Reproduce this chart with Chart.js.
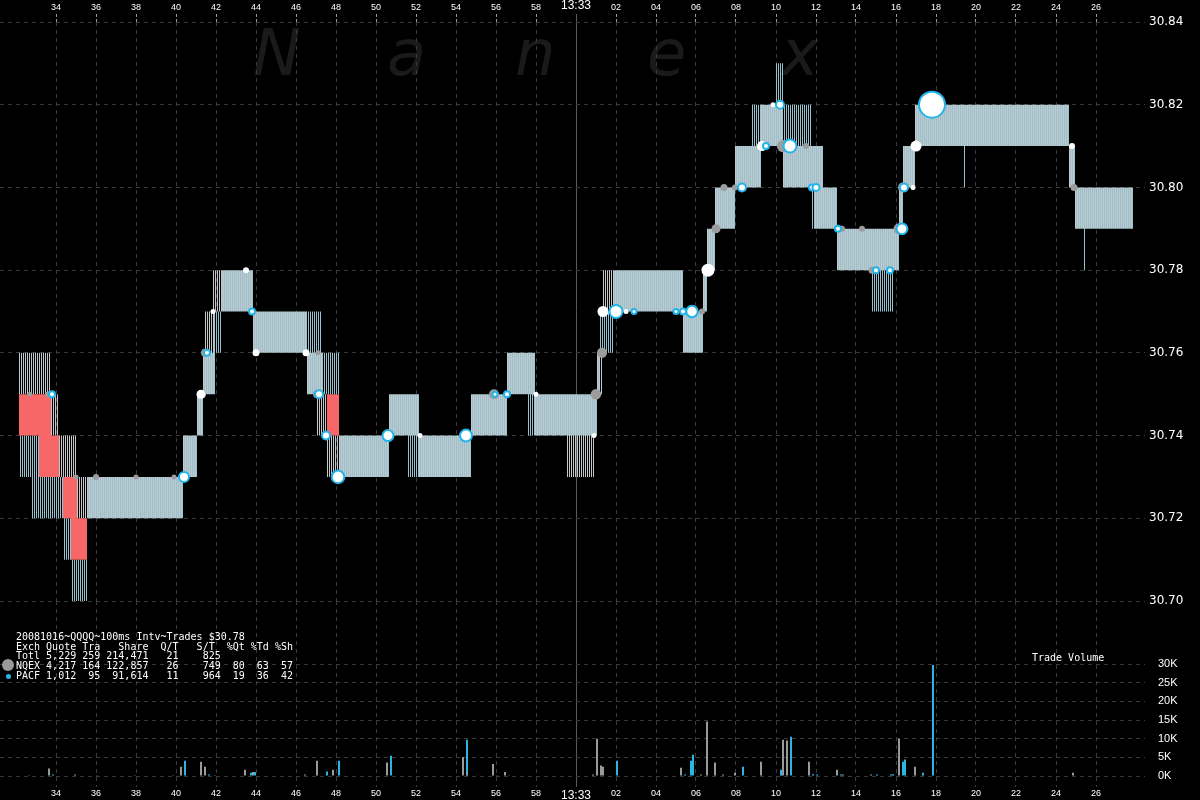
<!DOCTYPE html>
<html><head><meta charset="utf-8">
<script src="https://cdn.jsdelivr.net/npm/chart.js@4.4.1/dist/chart.umd.min.js"></script>
<style>
html,body{margin:0;padding:0;background:#000;width:1200px;height:800px;overflow:hidden;}
#wm span{position:absolute;top:21px;font:italic 64px 'DejaVu Sans';color:#1a1a1a;line-height:64px;}
canvas{position:absolute;left:0;}
#c1{top:0;z-index:1;} #c2{top:601px;z-index:2;}
.txt{position:absolute;font:10px 'DejaVu Sans Mono';color:#fff;white-space:pre;line-height:10px;z-index:3;}
.dot{position:absolute;border-radius:50%;z-index:3;}
</style></head><body>
<div id="wm"><span style="left:253px">N</span><span style="left:387px">a</span><span style="left:515px">n</span><span style="left:647px">e</span><span style="left:781px">x</span></div>
<canvas id="c1" width="1200" height="612"></canvas>
<canvas id="c2" width="1200" height="199"></canvas>
<div class="txt" style="left:16px;top:632px">20081016~QQQQ~100ms Intv~Trades $30.78</div>
<div class="txt" style="left:16px;top:641.7px">Exch Quote Tra   Share  Q/T   S/T  %Qt %Td %Sh</div>
<div class="txt" style="left:16px;top:651.4px">Totl 5,229 259 214,471   21    825</div>
<div class="txt" style="left:16px;top:661.1px">NQEX 4,217 164 122,857   26    749  80  63  57</div>
<div class="txt" style="left:16px;top:670.8px">PACF 1,012  95  91,614   11    964  19  36  42</div>
<div class="dot" style="left:2px;top:659px;width:12px;height:12px;background:#9a9a9a"></div>
<div class="dot" style="left:5.5px;top:673.5px;width:5px;height:5px;background:#29b6e6"></div>
<div class="txt" style="left:1032px;top:652.5px">Trade Volume</div>
<script>
// ---- Quote data (time in seconds relative to 13:33:00) ----
const nqT   = [-27.8,-26.2,-25.8,-24.9,-19.6,-18.9,-18.6,-18.5,-18.1,-18.0,-16.1,-13.4,-12.9,-12.6,-12.4,-9.3,-7.8,-5.2,-3.4,-2.0,-0.4,1.0,1.1,1.4,5.4,6.4,6.6,7.0,8.0,9.3,10.4,12.0,12.4,13.1,16.2,16.4,17.0,24.7,25.0];
const nqBid = [30.75,30.74,30.73,30.72,30.73,30.74,30.75,30.75,30.75,30.77,30.76,30.75,30.74,30.74,30.73,30.74,30.73,30.74,30.75,30.74,30.73,30.74,30.75,30.77,30.76,30.77,30.78,30.79,30.80,30.81,30.80,30.79,30.79,30.78,30.79,30.80,30.81,30.80,30.79];
const nqAsk = [30.76,30.75,30.74,30.73,30.74,30.75,30.76,30.77,30.78,30.78,30.77,30.76,30.76,30.75,30.74,30.75,30.74,30.75,30.76,30.75,30.75,30.75,30.76,30.78,30.77,30.78,30.79,30.80,30.81,30.82,30.81,30.81,30.80,30.79,30.80,30.81,30.82,30.81,30.80];

const pcT   = [-27.8,-27.2,-26.8,-25.6,-25.2,-24.4,-19.6,-18.9,-18.6,-18.1,-18.0,-17.7,-16.1,-13.4,-12.7,-11.8,-9.3,-8.4,-7.8,-5.2,-3.4,-2.4,-2.0,1.1,1.2,1.9,5.4,6.4,6.6,7.0,8.0,8.8,9.3,10.0,10.4,11.8,12.4,13.1,14.8,15.9,16.2,16.4,17.0,19.4,19.5,24.7,25.0,25.4,25.5];
const pcBid = [30.73,30.72,30.72,30.71,30.70,30.72,30.73,30.74,30.75,30.75,30.76,30.77,30.76,30.75,30.75,30.73,30.74,30.73,30.73,30.74,30.75,30.74,30.74,30.75,30.76,30.77,30.76,30.77,30.78,30.79,30.80,30.80,30.81,30.81,30.80,30.79,30.79,30.78,30.77,30.78,30.79,30.80,30.81,30.80,30.81,30.80,30.79,30.78,30.79];
const pcAsk = [30.74,30.74,30.73,30.72,30.71,30.73,30.74,30.75,30.76,30.77,30.77,30.78,30.77,30.77,30.76,30.74,30.75,30.75,30.74,30.75,30.76,30.76,30.75,30.76,30.77,30.78,30.77,30.78,30.79,30.80,30.81,30.82,30.82,30.83,30.82,30.81,30.80,30.79,30.79,30.79,30.80,30.81,30.82,30.82,30.82,30.81,30.80,30.80,30.80];
const quoteStart = -27.8, quoteEnd = 27.9, interval = 0.1;

// ---- Trade volume (shares) ----
const nqVolT = [-27.3,-26.3,-25.0,-23.9,-22.0,-20.1,-19.7,-18.7,-18.5,-18.0,-16.5,-16.1,-13.5,-12.9,-12.1,-9.4,-7.7,-5.6,-5.4,-4.1,-3.5,-1.9,0.9,1.1,1.3,1.4,2.5,5.3,6.3,6.6,7.0,7.4,8.0,9.3,9.9,10.3,10.4,10.6,11.5,11.7,13.1,13.4,14.3,14.8,16.2,17.0,24.9];
const nqVol  = [200,2000,400,100,100,100,2500,3800,2500,100,1700,1100,400,4100,1700,3600,150,5100,900,3200,1100,150,400,10000,2800,2500,150,2200,400,14600,3600,400,900,3800,150,200,9700,9500,150,3800,1700,400,150,400,10000,2500,900];
const pcVolT = [-26.2,-19.6,-18.4,-16.3,-16.1,-12.5,-11.9,-9.3,-5.5,-4.0,-3.4,2.0,2.9,5.0,5.4,5.7,5.8,8.3,9.6,10.2,10.7,11.8,12.0,13.2,15.0,15.7,15.8,16.3,16.4,17.3,17.8];
const pcVol  = [400,4100,400,900,1100,1200,4100,5400,9700,100,100,4100,150,150,400,4100,5700,2500,150,1700,10500,500,400,400,400,400,500,3800,4400,900,29700];

// ---- Trades (time, price, shares) ----
const nqTrT  = [-27.3,-26.4,-25.0,-24.0,-22.0,-20.1,-18.7,-18.55,-12.95,-12.9,-5.6,-4.1,1.0,1.3,6.3,7.0,7.4,7.95,10.35,11.5,13.3,14.3,14.8,16.15,16.35,24.9];
const nqTrP  = [30.75,30.75,30.73,30.73,30.73,30.73,30.75,30.76,30.75,30.76,30.74,30.75,30.75,30.76,30.77,30.79,30.80,30.80,30.81,30.81,30.79,30.79,30.78,30.79,30.80,30.80];
const nqTrSh = [225,500,225,500,225,225,1400,1400,1400,225,2800,2800,3200,2800,500,2000,900,500,4800,500,500,500,900,3600,2800,900];
const pcTrT  = [-26.2,-19.6,-18.45,-16.2,-12.85,-12.5,-11.9,-9.4,-5.5,-4.05,-3.45,2.0,2.9,5.0,5.35,5.8,8.3,9.5,10.2,10.7,11.8,12.0,13.1,15.0,15.7,16.3,16.4,17.8];
const pcTrP  = [30.75,30.73,30.76,30.77,30.75,30.74,30.73,30.74,30.74,30.75,30.75,30.77,30.77,30.77,30.77,30.77,30.80,30.81,30.82,30.81,30.80,30.80,30.79,30.78,30.78,30.79,30.80,30.82];
const pcTrSh = [500,2800,500,500,1400,1400,5200,3600,4500,225,500,5600,225,225,500,4000,1400,500,1400,5600,500,900,500,500,500,3400,1400,29700];
const wtTrT  = [-18.75,-18.15,-16.5,-16.0,-13.5,-7.8,-2.0,0.9,1.35,2.5,6.6,9.3,9.85,16.85,17.0,24.8];
const wtTrP  = [30.75,30.77,30.78,30.76,30.76,30.74,30.75,30.74,30.77,30.77,30.78,30.81,30.82,30.80,30.81,30.81];
const wtTrSh = [2000,225,500,900,900,225,225,225,3600,225,5600,2800,225,225,3600,500];

// ---- Ticks ----
const timeTicks  = [-26,-24,-22,-20,-18,-16,-14,-12,-10,-8,-6,-4,-2,0,2,4,6,8,10,12,14,16,18,20,22,24,26];
const priceTicks = [30.70,30.72,30.74,30.76,30.78,30.80,30.82,30.84];
const volTicks   = [0,5000,10000,15000,20000,25000,30000];

// ---- build library tables ----
function quoteAt(ts, bids, asks, t){
  let i = 0;
  for (let k = 0; k < ts.length; k++) if (ts[k] <= t + 1e-9) i = k;
  return [bids[i], asks[i]];
}
const nqBars = [], pcBars = [], redBars = [];
const nSteps = Math.round((quoteEnd - quoteStart) / interval);
for (let k = 0; k < nSteps; k++) {
  const t = +(quoteStart + k * interval).toFixed(1);
  const a = quoteAt(nqT, nqBid, nqAsk, t), b = quoteAt(pcT, pcBid, pcAsk, t);
  nqBars.push({x: t, y: [a[0], a[1]]});
  pcBars.push({x: t, y: [b[0], b[1]]});
  if (a[0] > b[1] + 1e-9) redBars.push({x: t, y: [b[1], a[0]]});
  else if (b[0] > a[1] + 1e-9) redBars.push({x: t, y: [a[1], b[0]]});
}
const rad = sh => 1.5 + Math.sqrt(sh) / 15;
const pts = (T, P) => T.map((t, i) => ({x: t, y: P[i]}));

const GRID = '#3a3a3a', ZERO = '#5a5a5a';
const X_MIN = -28.8, X_MAX = 28.45;
function tLabel(v){
  if (Math.abs(v) < 1e-9) return '13:33';
  const s = v < 0 ? 60 + v : v;
  return String(Math.round(s)).padStart(2, '0');
}
const isZero = c => c.tick && Math.abs(c.tick.value) < 1e-9;
function xScale(pos){
  return {
    type: 'linear', position: pos, min: X_MIN, max: X_MAX, offset: false,
    afterBuildTicks: s => { s.ticks = timeTicks.map(v => ({value: v})); },
    afterFit: s => { s.height = pos === 'top' ? 22 : 13; s.paddingLeft = 0; s.paddingRight = 0; },
    ticks: {
      autoSkip: false, maxRotation: 0, color: '#fff', padding: 1,
      callback: v => tLabel(v),
      font: c => ({family: 'Liberation Sans', size: isZero(c) ? 12 : 9})
    },
    grid: {
      offset: false, drawTicks: pos === 'top', tickLength: 8,
      color: c => isZero(c) ? ZERO : GRID,
      tickColor: c => isZero(c) ? ZERO : '#9a9a9a',
      tickBorderDash: c => isZero(c) ? [] : [3, 2]
    },
    border: {display: false, dash: c => isZero(c) ? [] : [4, 4]}
  };
}
const common = {
  responsive: false, animation: false, devicePixelRatio: 1, events: [],
  plugins: {legend: {display: false}, tooltip: {enabled: false}}
};

new Chart(document.getElementById('c1'), {
  type: 'bar',
  data: {datasets: [
    {type: 'scatter', data: pts(pcTrT, pcTrP), pointRadius: c => rad(pcTrSh[c.dataIndex]), backgroundColor: '#ffffff', borderColor: '#22b4ea', borderWidth: 2},
    {type: 'scatter', data: pts(wtTrT, wtTrP), pointRadius: c => rad(wtTrSh[c.dataIndex]), backgroundColor: '#ffffff', borderColor: '#ffffff', borderWidth: 0},
    {type: 'scatter', data: pts(nqTrT, nqTrP), pointRadius: c => rad(nqTrSh[c.dataIndex]), backgroundColor: '#9c9c9c', borderColor: '#9c9c9c', borderWidth: 0},
    {data: redBars, backgroundColor: '#f76767', grouped: false, barThickness: 2, inflateAmount: 0, borderWidth: 0},
    {data: nqBars, backgroundColor: '#c4c8ca', barThickness: 1, inflateAmount: 0, borderWidth: 0},
    {data: pcBars, backgroundColor: '#96c2d0', barThickness: 1, inflateAmount: 0, borderWidth: 0}
  ]},
  options: Object.assign({}, common, {
    layout: {autoPadding: false, padding: {left: 0, right: 0, top: 0, bottom: 11}},
    scales: {
      x: xScale('top'),
      y: {
        type: 'linear', position: 'right', min: 30.70, max: 30.84, beginAtZero: false,
        afterBuildTicks: s => { s.ticks = priceTicks.map(v => ({value: v})); },
        afterFit: s => { s.width = 55; s.paddingTop = 0; s.paddingBottom = 0; },
        ticks: {color: '#fff', padding: 4, font: {family: 'DejaVu Sans', size: 12}, callback: v => v.toFixed(2)},
        grid: {color: GRID, drawTicks: false},
        border: {display: false, dash: [4, 4]}
      }
    }
  })
});

new Chart(document.getElementById('c2'), {
  type: 'bar',
  data: {datasets: [
    {data: pts(nqVolT, nqVol), backgroundColor: '#9a9a9a', barThickness: 2, inflateAmount: 0, borderWidth: 0},
    {data: pts(pcVolT, pcVol), backgroundColor: '#2bb5e5', barThickness: 2, inflateAmount: 0, borderWidth: 0}
  ]},
  options: Object.assign({}, common, {
    layout: {autoPadding: false, padding: 0},
    scales: {
      x: xScale('bottom'),
      y: {
        type: 'linear', position: 'right', min: -2946, max: 46875, beginAtZero: false,
        afterBuildTicks: s => { s.ticks = volTicks.map(v => ({value: v})); },
        afterFit: s => { s.width = 55; s.paddingTop = 0; s.paddingBottom = 0; },
        ticks: {color: '#fff', padding: 13, font: {family: 'Liberation Sans', size: 11}, callback: v => (v / 1000) + 'K'},
        grid: {color: GRID, drawTicks: false},
        border: {display: false, dash: [4, 4]}
      }
    }
  })
});
</script>
</body></html>
